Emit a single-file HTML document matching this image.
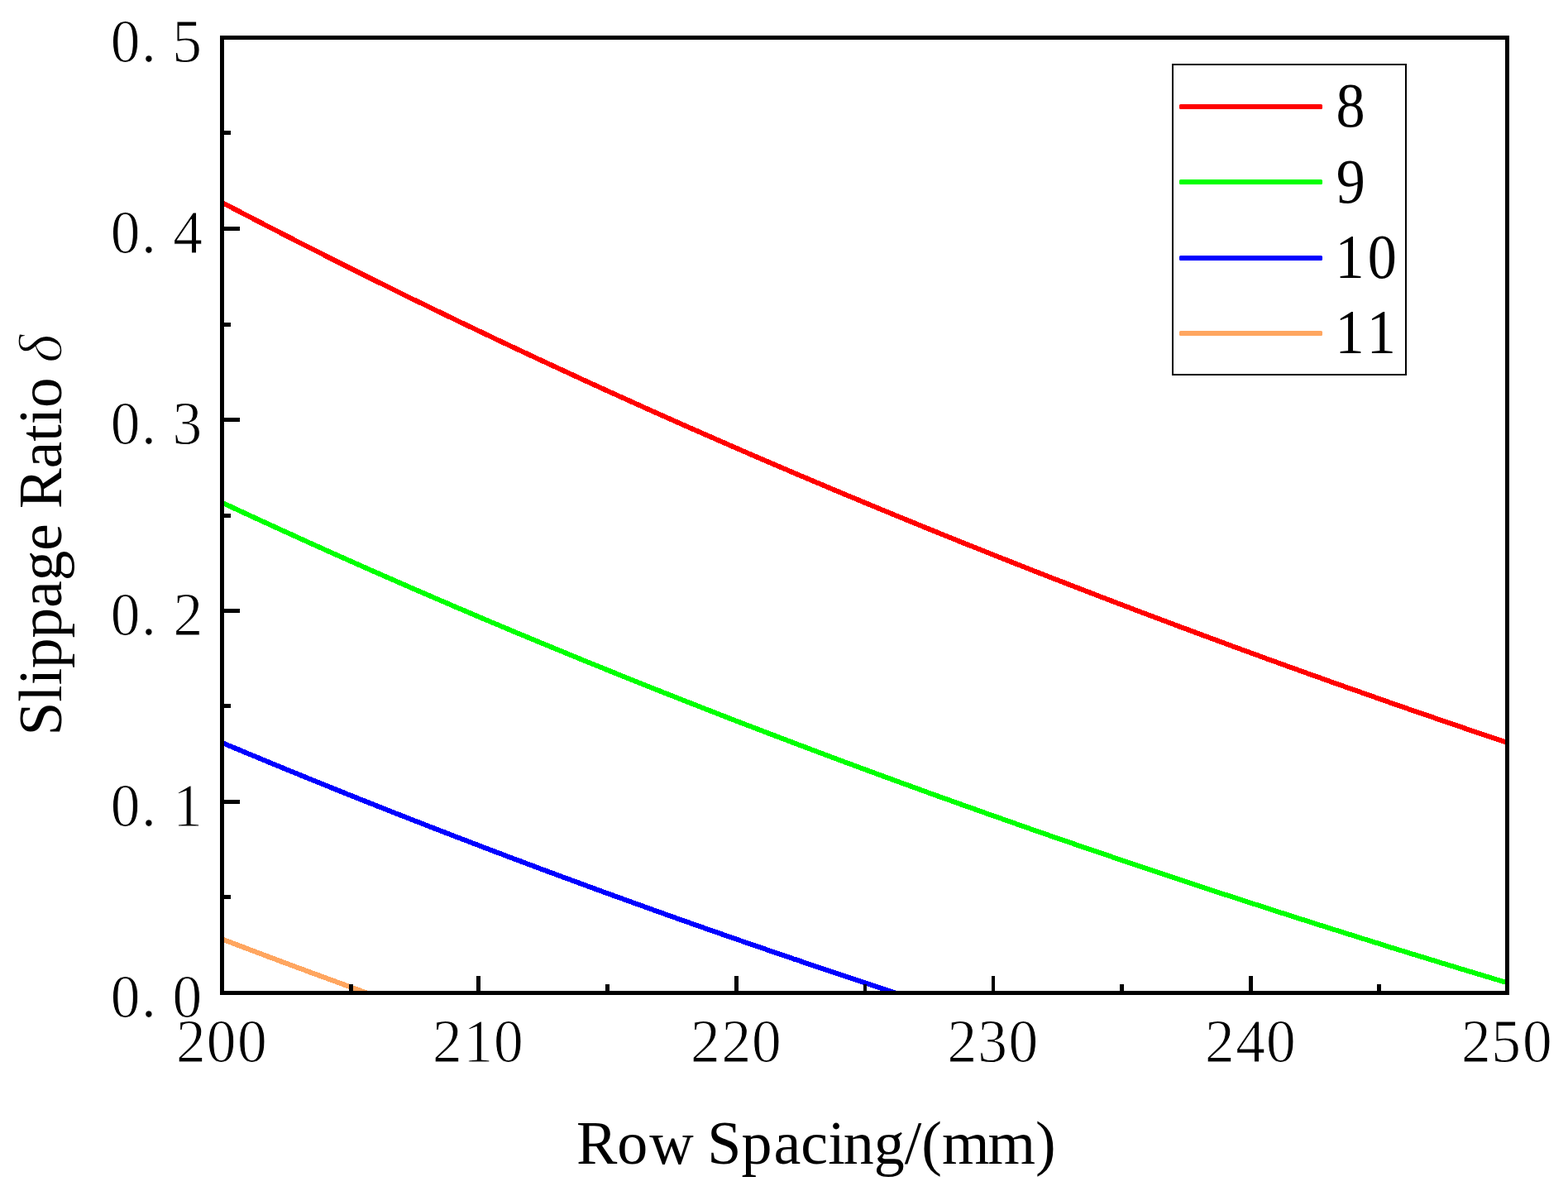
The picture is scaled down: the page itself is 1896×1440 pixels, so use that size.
<!DOCTYPE html>
<html lang="en">
<head>
<meta charset="utf-8">
<title>Slippage Ratio vs Row Spacing</title>
<style>
html,body{margin:0;padding:0;background:#fff;}
body{width:1896px;height:1440px;overflow:hidden;}
svg{display:block;}
text{font-family:'Liberation Serif', serif;fill:#000;}
.tick{font-size:74.2px;stroke:#fff;stroke-width:1px;}
.ttl{font-size:74px;}
.leg{font-size:75.5px;}
</style>
</head>
<body>
<svg width="1896" height="1440" viewBox="0 0 1896 1440" role="img" aria-label="Slippage ratio versus row spacing">
<rect x="0" y="0" width="1896" height="1440" fill="#ffffff"/>
<defs><clipPath id="plotclip"><rect x="271" y="48" width="1549" height="1150"/></clipPath></defs>
<g clip-path="url(#plotclip)" fill="none" stroke-width="6" stroke-linejoin="round" stroke-linecap="butt" shape-rendering="crispEdges">
<polyline stroke="#ff0000" points="268.5,244.8 276.3,248.9 284.0,253.0 291.8,257.0 299.6,261.1 307.4,265.1 315.1,269.1 322.9,273.1 330.7,277.1 338.4,281.1 346.2,285.1 354.0,289.1 361.7,293.1 369.5,297.0 377.3,301.0 385.1,304.9 392.8,308.8 400.6,312.8 408.4,316.7 416.1,320.6 423.9,324.5 431.7,328.3 439.4,332.2 447.2,336.1 455.0,339.9 462.8,343.8 470.5,347.6 478.3,351.4 486.1,355.2 493.8,359.1 501.6,362.9 509.4,366.6 517.1,370.4 524.9,374.2 532.7,377.9 540.5,381.7 548.2,385.4 556.0,389.2 563.8,392.9 571.5,396.6 579.3,400.3 587.1,404.0 594.8,407.7 602.6,411.4 610.4,415.1 618.1,418.7 625.9,422.4 633.7,426.0 641.5,429.7 649.2,433.3 657.0,436.9 664.8,440.5 672.5,444.1 680.3,447.7 688.1,451.3 695.9,454.9 703.6,458.5 711.4,462.0 719.2,465.6 726.9,469.1 734.7,472.7 742.5,476.2 750.2,479.7 758.0,483.2 765.8,486.7 773.5,490.2 781.3,493.7 789.1,497.2 796.9,500.7 804.6,504.1 812.4,507.6 820.2,511.0 827.9,514.5 835.7,517.9 843.5,521.3 851.2,524.7 859.0,528.1 866.8,531.5 874.6,534.9 882.3,538.3 890.1,541.7 897.9,545.1 905.6,548.4 913.4,551.8 921.2,555.1 929.0,558.5 936.7,561.8 944.5,565.1 952.3,568.4 960.0,571.8 967.8,575.1 975.6,578.3 983.3,581.6 991.1,584.9 998.9,588.2 1006.6,591.5 1014.4,594.7 1022.2,598.0 1030.0,601.2 1037.7,604.4 1045.5,607.7 1053.3,610.9 1061.0,614.1 1068.8,617.3 1076.6,620.5 1084.3,623.7 1092.1,626.9 1099.9,630.1 1107.7,633.2 1115.4,636.4 1123.2,639.6 1131.0,642.7 1138.7,645.9 1146.5,649.0 1154.3,652.1 1162.0,655.3 1169.8,658.4 1177.6,661.5 1185.4,664.6 1193.1,667.7 1200.9,670.8 1208.7,673.9 1216.4,676.9 1224.2,680.0 1232.0,683.1 1239.8,686.1 1247.5,689.2 1255.3,692.2 1263.1,695.3 1270.8,698.3 1278.6,701.3 1286.4,704.3 1294.1,707.3 1301.9,710.3 1309.7,713.3 1317.5,716.3 1325.2,719.3 1333.0,722.3 1340.8,725.3 1348.5,728.2 1356.3,731.2 1364.1,734.1 1371.8,737.1 1379.6,740.0 1387.4,743.0 1395.2,745.9 1402.9,748.8 1410.7,751.7 1418.5,754.6 1426.2,757.6 1434.0,760.4 1441.8,763.3 1449.5,766.2 1457.3,769.1 1465.1,772.0 1472.8,774.8 1480.6,777.7 1488.4,780.6 1496.2,783.4 1503.9,786.3 1511.7,789.1 1519.5,791.9 1527.2,794.8 1535.0,797.6 1542.8,800.4 1550.5,803.2 1558.3,806.0 1566.1,808.8 1573.9,811.6 1581.6,814.4 1589.4,817.2 1597.2,819.9 1604.9,822.7 1612.7,825.5 1620.5,828.2 1628.2,831.0 1636.0,833.7 1643.8,836.4 1651.6,839.2 1659.3,841.9 1667.1,844.6 1674.9,847.4 1682.6,850.1 1690.4,852.8 1698.2,855.5 1706.0,858.2 1713.7,860.9 1721.5,863.5 1729.3,866.2 1737.0,868.9 1744.8,871.6 1752.6,874.2 1760.3,876.9 1768.1,879.5 1775.9,882.2 1783.7,884.8 1791.4,887.5 1799.2,890.1 1807.0,892.7 1814.7,895.3 1822.5,898.0"/>
<polyline stroke="#00ff00" points="268.5,607.7 276.3,611.3 284.0,614.9 291.8,618.5 299.6,622.1 307.4,625.7 315.1,629.3 322.9,632.8 330.7,636.4 338.4,640.0 346.2,643.5 354.0,647.0 361.7,650.6 369.5,654.1 377.3,657.6 385.1,661.1 392.8,664.6 400.6,668.1 408.4,671.5 416.1,675.0 423.9,678.5 431.7,681.9 439.4,685.4 447.2,688.8 455.0,692.2 462.8,695.6 470.5,699.0 478.3,702.4 486.1,705.8 493.8,709.2 501.6,712.6 509.4,716.0 517.1,719.3 524.9,722.7 532.7,726.0 540.5,729.3 548.2,732.7 556.0,736.0 563.8,739.3 571.5,742.6 579.3,745.9 587.1,749.2 594.8,752.5 602.6,755.7 610.4,759.0 618.1,762.3 625.9,765.5 633.7,768.7 641.5,772.0 649.2,775.2 657.0,778.4 664.8,781.6 672.5,784.8 680.3,788.0 688.1,791.2 695.9,794.4 703.6,797.6 711.4,800.7 719.2,803.9 726.9,807.0 734.7,810.2 742.5,813.3 750.2,816.5 758.0,819.6 765.8,822.7 773.5,825.8 781.3,828.9 789.1,832.0 796.9,835.1 804.6,838.2 812.4,841.2 820.2,844.3 827.9,847.4 835.7,850.4 843.5,853.4 851.2,856.5 859.0,859.5 866.8,862.5 874.6,865.6 882.3,868.6 890.1,871.6 897.9,874.6 905.6,877.5 913.4,880.5 921.2,883.5 929.0,886.5 936.7,889.4 944.5,892.4 952.3,895.3 960.0,898.3 967.8,901.2 975.6,904.1 983.3,907.1 991.1,910.0 998.9,912.9 1006.6,915.8 1014.4,918.7 1022.2,921.6 1030.0,924.5 1037.7,927.3 1045.5,930.2 1053.3,933.1 1061.0,935.9 1068.8,938.8 1076.6,941.6 1084.3,944.5 1092.1,947.3 1099.9,950.1 1107.7,952.9 1115.4,955.8 1123.2,958.6 1131.0,961.4 1138.7,964.2 1146.5,966.9 1154.3,969.7 1162.0,972.5 1169.8,975.3 1177.6,978.0 1185.4,980.8 1193.1,983.6 1200.9,986.3 1208.7,989.0 1216.4,991.8 1224.2,994.5 1232.0,997.2 1239.8,999.9 1247.5,1002.7 1255.3,1005.4 1263.1,1008.1 1270.8,1010.8 1278.6,1013.4 1286.4,1016.1 1294.1,1018.8 1301.9,1021.5 1309.7,1024.1 1317.5,1026.8 1325.2,1029.4 1333.0,1032.1 1340.8,1034.7 1348.5,1037.4 1356.3,1040.0 1364.1,1042.6 1371.8,1045.3 1379.6,1047.9 1387.4,1050.5 1395.2,1053.1 1402.9,1055.7 1410.7,1058.3 1418.5,1060.9 1426.2,1063.4 1434.0,1066.0 1441.8,1068.6 1449.5,1071.1 1457.3,1073.7 1465.1,1076.3 1472.8,1078.8 1480.6,1081.4 1488.4,1083.9 1496.2,1086.4 1503.9,1089.0 1511.7,1091.5 1519.5,1094.0 1527.2,1096.5 1535.0,1099.0 1542.8,1101.5 1550.5,1104.0 1558.3,1106.5 1566.1,1109.0 1573.9,1111.5 1581.6,1113.9 1589.4,1116.4 1597.2,1118.9 1604.9,1121.3 1612.7,1123.8 1620.5,1126.2 1628.2,1128.7 1636.0,1131.1 1643.8,1133.6 1651.6,1136.0 1659.3,1138.4 1667.1,1140.8 1674.9,1143.3 1682.6,1145.7 1690.4,1148.1 1698.2,1150.5 1706.0,1152.9 1713.7,1155.3 1721.5,1157.6 1729.3,1160.0 1737.0,1162.4 1744.8,1164.8 1752.6,1167.1 1760.3,1169.5 1768.1,1171.9 1775.9,1174.2 1783.7,1176.6 1791.4,1178.9 1799.2,1181.2 1807.0,1183.6 1814.7,1185.9 1822.5,1188.2"/>
<polyline stroke="#0000ff" points="268.5,898.0 272.6,899.7 276.6,901.4 280.7,903.1 284.8,904.8 288.9,906.5 292.9,908.2 297.0,909.9 301.1,911.6 305.1,913.3 309.2,914.9 313.3,916.6 317.3,918.3 321.4,920.0 325.5,921.7 329.6,923.4 333.6,925.0 337.7,926.7 341.8,928.4 345.8,930.1 349.9,931.7 354.0,933.4 358.1,935.1 362.1,936.7 366.2,938.4 370.3,940.0 374.3,941.7 378.4,943.3 382.5,945.0 386.5,946.6 390.6,948.3 394.7,949.9 398.8,951.6 402.8,953.2 406.9,954.9 411.0,956.5 415.0,958.1 419.1,959.8 423.2,961.4 427.3,963.0 431.3,964.6 435.4,966.3 439.5,967.9 443.5,969.5 447.6,971.1 451.7,972.7 455.7,974.4 459.8,976.0 463.9,977.6 468.0,979.2 472.0,980.8 476.1,982.4 480.2,984.0 484.2,985.6 488.3,987.2 492.4,988.8 496.5,990.4 500.5,992.0 504.6,993.6 508.7,995.1 512.7,996.7 516.8,998.3 520.9,999.9 525.0,1001.5 529.0,1003.0 533.1,1004.6 537.2,1006.2 541.2,1007.8 545.3,1009.3 549.4,1010.9 553.4,1012.5 557.5,1014.0 561.6,1015.6 565.7,1017.1 569.7,1018.7 573.8,1020.3 577.9,1021.8 581.9,1023.4 586.0,1024.9 590.1,1026.5 594.2,1028.0 598.2,1029.6 602.3,1031.1 606.4,1032.6 610.4,1034.2 614.5,1035.7 618.6,1037.2 622.6,1038.8 626.7,1040.3 630.8,1041.8 634.9,1043.4 638.9,1044.9 643.0,1046.4 647.1,1047.9 651.1,1049.4 655.2,1051.0 659.3,1052.5 663.4,1054.0 667.4,1055.5 671.5,1057.0 675.6,1058.5 679.6,1060.0 683.7,1061.5 687.8,1063.0 691.8,1064.5 695.9,1066.0 700.0,1067.5 704.1,1069.0 708.1,1070.5 712.2,1072.0 716.3,1073.5 720.3,1075.0 724.4,1076.5 728.5,1078.0 732.6,1079.4 736.6,1080.9 740.7,1082.4 744.8,1083.9 748.8,1085.4 752.9,1086.8 757.0,1088.3 761.0,1089.8 765.1,1091.2 769.2,1092.7 773.3,1094.2 777.3,1095.6 781.4,1097.1 785.5,1098.5 789.5,1100.0 793.6,1101.5 797.7,1102.9 801.8,1104.4 805.8,1105.8 809.9,1107.3 814.0,1108.7 818.0,1110.2 822.1,1111.6 826.2,1113.0 830.2,1114.5 834.3,1115.9 838.4,1117.4 842.5,1118.8 846.5,1120.2 850.6,1121.7 854.7,1123.1 858.7,1124.5 862.8,1125.9 866.9,1127.4 871.0,1128.8 875.0,1130.2 879.1,1131.6 883.2,1133.0 887.2,1134.5 891.3,1135.9 895.4,1137.3 899.5,1138.7 903.5,1140.1 907.6,1141.5 911.7,1142.9 915.7,1144.3 919.8,1145.7 923.9,1147.1 927.9,1148.5 932.0,1149.9 936.1,1151.3 940.2,1152.7 944.2,1154.1 948.3,1155.5 952.4,1156.9 956.4,1158.3 960.5,1159.7 964.6,1161.0 968.7,1162.4 972.7,1163.8 976.8,1165.2 980.9,1166.6 984.9,1167.9 989.0,1169.3 993.1,1170.7 997.1,1172.1 1001.2,1173.4 1005.3,1174.8 1009.4,1176.2 1013.4,1177.5 1017.5,1178.9 1021.6,1180.3 1025.6,1181.6 1029.7,1183.0 1033.8,1184.3 1037.9,1185.7 1041.9,1187.0 1046.0,1188.4 1050.1,1189.7 1054.1,1191.1 1058.2,1192.4 1062.3,1193.8 1066.3,1195.1 1070.4,1196.5 1074.5,1197.8 1078.6,1199.2 1082.6,1200.5"/>
<polyline stroke="#ffa660" points="268.5,1135.5 269.4,1135.8 270.3,1136.1 271.1,1136.5 272.0,1136.8 272.9,1137.1 273.8,1137.5 274.6,1137.8 275.5,1138.1 276.4,1138.5 277.3,1138.8 278.1,1139.1 279.0,1139.5 279.9,1139.8 280.8,1140.1 281.6,1140.5 282.5,1140.8 283.4,1141.1 284.3,1141.5 285.1,1141.8 286.0,1142.1 286.9,1142.5 287.8,1142.8 288.6,1143.1 289.5,1143.5 290.4,1143.8 291.3,1144.1 292.1,1144.4 293.0,1144.8 293.9,1145.1 294.8,1145.4 295.6,1145.8 296.5,1146.1 297.4,1146.4 298.3,1146.8 299.1,1147.1 300.0,1147.4 300.9,1147.8 301.8,1148.1 302.6,1148.4 303.5,1148.8 304.4,1149.1 305.3,1149.4 306.1,1149.7 307.0,1150.1 307.9,1150.4 308.8,1150.7 309.6,1151.1 310.5,1151.4 311.4,1151.7 312.3,1152.1 313.1,1152.4 314.0,1152.7 314.9,1153.0 315.8,1153.4 316.6,1153.7 317.5,1154.0 318.4,1154.4 319.3,1154.7 320.1,1155.0 321.0,1155.4 321.9,1155.7 322.8,1156.0 323.6,1156.3 324.5,1156.7 325.4,1157.0 326.3,1157.3 327.1,1157.6 328.0,1158.0 328.9,1158.3 329.8,1158.6 330.6,1159.0 331.5,1159.3 332.4,1159.6 333.3,1159.9 334.1,1160.3 335.0,1160.6 335.9,1160.9 336.8,1161.3 337.6,1161.6 338.5,1161.9 339.4,1162.2 340.3,1162.6 341.1,1162.9 342.0,1163.2 342.9,1163.5 343.8,1163.9 344.6,1164.2 345.5,1164.5 346.4,1164.8 347.3,1165.2 348.1,1165.5 349.0,1165.8 349.9,1166.2 350.8,1166.5 351.6,1166.8 352.5,1167.1 353.4,1167.5 354.3,1167.8 355.1,1168.1 356.0,1168.4 356.9,1168.8 357.8,1169.1 358.6,1169.4 359.5,1169.7 360.4,1170.1 361.3,1170.4 362.1,1170.7 363.0,1171.0 363.9,1171.4 364.8,1171.7 365.6,1172.0 366.5,1172.3 367.4,1172.6 368.3,1173.0 369.1,1173.3 370.0,1173.6 370.9,1173.9 371.8,1174.3 372.6,1174.6 373.5,1174.9 374.4,1175.2 375.3,1175.6 376.1,1175.9 377.0,1176.2 377.9,1176.5 378.8,1176.9 379.6,1177.2 380.5,1177.5 381.4,1177.8 382.3,1178.1 383.1,1178.5 384.0,1178.8 384.9,1179.1 385.8,1179.4 386.6,1179.8 387.5,1180.1 388.4,1180.4 389.3,1180.7 390.1,1181.0 391.0,1181.4 391.9,1181.7 392.8,1182.0 393.6,1182.3 394.5,1182.6 395.4,1183.0 396.3,1183.3 397.1,1183.6 398.0,1183.9 398.9,1184.3 399.8,1184.6 400.6,1184.9 401.5,1185.2 402.4,1185.5 403.3,1185.9 404.1,1186.2 405.0,1186.5 405.9,1186.8 406.8,1187.1 407.6,1187.5 408.5,1187.8 409.4,1188.1 410.3,1188.4 411.1,1188.7 412.0,1189.1 412.9,1189.4 413.8,1189.7 414.6,1190.0 415.5,1190.3 416.4,1190.7 417.3,1191.0 418.1,1191.3 419.0,1191.6 419.9,1191.9 420.8,1192.2 421.6,1192.6 422.5,1192.9 423.4,1193.2 424.3,1193.5 425.1,1193.8 426.0,1194.2 426.9,1194.5 427.8,1194.8 428.7,1195.1 429.5,1195.4 430.4,1195.7 431.3,1196.1 432.2,1196.4 433.0,1196.7 433.9,1197.0 434.8,1197.3 435.7,1197.6 436.5,1198.0 437.4,1198.3 438.3,1198.6 439.2,1198.9 440.0,1199.2 440.9,1199.6 441.8,1199.9 442.7,1200.2 443.5,1200.5"/>
</g>
<g fill="#000" shape-rendering="crispEdges">
<rect x="266" y="43" width="1559" height="5"/>
<rect x="266" y="1198" width="1559" height="5"/>
<rect x="266" y="43" width="5" height="1160"/>
<rect x="1820" y="43" width="5" height="1160"/>
<rect x="271" y="1082" width="8" height="5"/>
<rect x="271" y="967" width="19" height="5"/>
<rect x="271" y="851" width="8" height="5"/>
<rect x="271" y="736" width="19" height="5"/>
<rect x="271" y="621" width="8" height="5"/>
<rect x="271" y="505" width="19" height="5"/>
<rect x="271" y="390" width="8" height="5"/>
<rect x="271" y="274" width="19" height="5"/>
<rect x="271" y="158" width="8" height="5"/>
<rect x="422" y="1190" width="5" height="8"/>
<rect x="576" y="1180" width="5" height="18"/>
<rect x="732" y="1190" width="5" height="8"/>
<rect x="888" y="1180" width="5" height="18"/>
<rect x="1044" y="1190" width="4" height="8"/>
<rect x="1199" y="1180" width="4" height="18"/>
<rect x="1354" y="1190" width="5" height="8"/>
<rect x="1510" y="1180" width="5" height="18"/>
<rect x="1665" y="1190" width="5" height="8"/>
</g>
<g>
<text class="tick" transform="matrix(0.962 0 0 1 133.5 1230.2)" x="0.31 38.88 78.07" y="0">0.0</text>
<text class="tick" transform="matrix(0.962 0 0 1 133.5 999.2)" x="0.31 38.88 78.79" y="0">0.1</text>
<text class="tick" transform="matrix(0.962 0 0 1 133.5 768.2)" x="0.31 38.88 78.90" y="0">0.2</text>
<text class="tick" transform="matrix(0.962 0 0 1 133.5 537.2)" x="0.31 38.88 78.07" y="0">0.3</text>
<text class="tick" transform="matrix(0.962 0 0 1 133.5 306.2)" x="0.31 38.88 78.69" y="0">0.4</text>
<text class="tick" transform="matrix(0.962 0 0 1 133.5 75.2)" x="0.31 38.88 77.65" y="0">0.5</text>
<text class="tick" transform="matrix(0.962 0 0 1 212.0 1284.1)" x="1.14 39.19 78.07" y="0">200</text>
<text class="tick" transform="matrix(0.962 0 0 1 522.0 1284.1)" x="1.14 39.92 78.07" y="0">210</text>
<text class="tick" transform="matrix(0.962 0 0 1 834.0 1284.1)" x="1.14 40.02 78.07" y="0">220</text>
<text class="tick" transform="matrix(0.962 0 0 1 1144.5 1284.1)" x="1.14 39.19 78.07" y="0">230</text>
<text class="tick" transform="matrix(0.962 0 0 1 1456.0 1284.1)" x="1.14 39.81 78.07" y="0">240</text>
<text class="tick" transform="matrix(0.962 0 0 1 1766.0 1284.1)" x="1.14 38.77 78.07" y="0">250</text>
</g>
<text class="ttl" x="697.0" y="1406.8" dx="0 0 2 -2 0 0 2 0 0 -2 0 0 0 0 -2 0">Row Spacing/(mm)</text>
<text class="ttl" style="font-size:73.2px" transform="translate(74.3 889.4) rotate(-90)">Slippage Ratio <tspan font-style="italic" dx="-0.5" stroke="#fff" stroke-width="1.3">δ</tspan></text>
<rect x="1418" y="78" width="282" height="375" fill="#fff" stroke="#000" stroke-width="2" shape-rendering="crispEdges"/>
<rect x="1426" y="126" width="173" height="6" rx="1.5" ry="1.5" fill="#ff0000"/>
<text class="leg" transform="matrix(0.930 0 0 1 1615.4 153.2)" x="0.00" y="0">8</text>
<rect x="1426" y="217" width="173" height="6" rx="1.5" ry="1.5" fill="#00ff00"/>
<text class="leg" transform="matrix(0.930 0 0 1 1615.8 244.6)" x="0.00" y="0">9</text>
<rect x="1426" y="309" width="173" height="6" rx="1.5" ry="1.5" fill="#0000ff"/>
<text class="leg" transform="matrix(0.930 0 0 1 1614.5 336.0)" x="0.00 42.13" y="0">10</text>
<rect x="1426" y="400" width="173" height="6" rx="1.5" ry="1.5" fill="#ffa660"/>
<text class="leg" transform="matrix(0.930 0 0 1 1614.5 427.1)" x="0.00 41.08" y="0">11</text>
</svg>
</body>
</html>
